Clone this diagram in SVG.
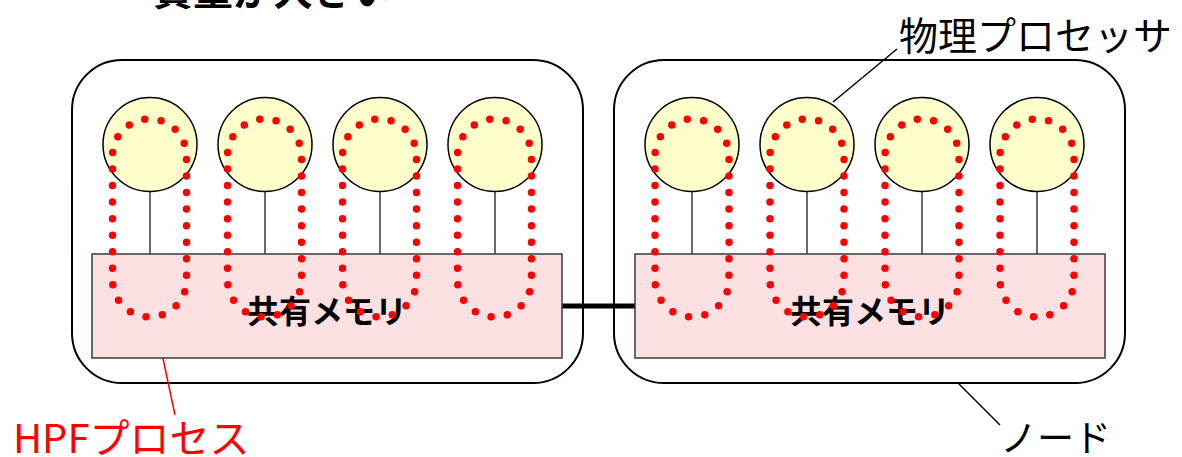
<svg xmlns="http://www.w3.org/2000/svg" width="1182" height="457" viewBox="0 0 1182 457">
  <defs>
    <style>
      .node { fill: #ffffff; stroke: #000000; stroke-width: 2; }
      .cpu { fill: #ffffcc; stroke: #000000; stroke-width: 1.5; }
      .mem { fill: #fde0e2; stroke: #3a3a3a; stroke-width: 1.5; }
      .bus { stroke: #3a3a3a; stroke-width: 1.5; fill: none; }
      .net { stroke: #000000; stroke-width: 5; fill: none; }
      .proc { fill: none; stroke: #ff0000; stroke-width: 7.5; stroke-linecap: round; stroke-dasharray: 0 1; stroke-dashoffset: 0.294; }
      .lead { stroke: #000000; stroke-width: 1.5; fill: none; }
      .lead-red { stroke: #ff0000; stroke-width: 1.5; fill: none; }
      .jp { font-family: "Noto Sans CJK JP", "Noto Sans", sans-serif; }
      .memlabel { font-size: 32px; font-weight: 700; fill: #000000; text-anchor: middle; }
      .label { font-size: 39px; fill: #000000; }
    </style>
    <!-- one HPF process: a dotted loop running from a processor down into memory -->
    <path id="loop" d="M -37,280 L -37,156 A 37 37 0 0 1 37,156 L 37,280 A 37 37 0 0 1 -37,280 Z" pathLength="29"/>
  </defs>

  <rect width="1182" height="457" fill="#ffffff"/>

  <!-- heading line, running off the top edge -->
  <text class="jp" x="153" y="5" font-size="40" font-weight="700" fill="#000000">費量が大きい</text>

  <!-- node boxes -->
  <g id="node-left">
    <rect class="node" x="72" y="60" width="511" height="323" rx="50" ry="50"/>
  </g>
  <g id="node-right">
    <rect class="node" x="614" y="60" width="511" height="323" rx="50" ry="50"/>
  </g>

  <!-- connectors: processor-to-memory buses, inter-node link, leaders -->
  <g id="connectors">
    <path class="bus" d="M150,191.5 V254 M265,191.5 V254 M380,191.5 V254 M495,191.5 V254"/>
    <path class="bus" d="M692,191.5 V254 M807,191.5 V254 M922,191.5 V254 M1037,191.5 V254"/>
    <line class="net" x1="562" y1="306" x2="635" y2="306"/>
    <line class="lead" x1="897" y1="49" x2="833" y2="102"/>
    <line class="lead" x1="958" y1="383" x2="1000" y2="425"/>
    <line class="lead-red" x1="155" y1="321" x2="175" y2="415"/>
  </g>

  <!-- shared memories -->
  <g id="mem-left">
    <rect class="mem" x="92" y="254" width="470" height="104"/>
    <text class="jp memlabel" x="327" y="323">共有メモリ</text>
  </g>
  <g id="mem-right">
    <rect class="mem" x="635" y="254" width="470" height="104"/>
    <text class="jp memlabel" x="870" y="323">共有メモリ</text>
  </g>

  <!-- physical processors -->
  <g id="cpu-l1"><circle class="cpu" cx="150" cy="144.5" r="47"/></g>
  <g id="cpu-l2"><circle class="cpu" cx="265" cy="144.5" r="47"/></g>
  <g id="cpu-l3"><circle class="cpu" cx="380" cy="144.5" r="47"/></g>
  <g id="cpu-l4"><circle class="cpu" cx="495" cy="144.5" r="47"/></g>
  <g id="cpu-r1"><circle class="cpu" cx="692" cy="144.5" r="47"/></g>
  <g id="cpu-r2"><circle class="cpu" cx="807" cy="144.5" r="47"/></g>
  <g id="cpu-r3"><circle class="cpu" cx="922" cy="144.5" r="47"/></g>
  <g id="cpu-r4"><circle class="cpu" cx="1037" cy="144.5" r="47"/></g>

  <!-- HPF processes, one per processor -->
  <g id="processes">
    <use href="#loop" class="proc" transform="translate(149.5,0)"/>
    <use href="#loop" class="proc" transform="translate(264.5,0)"/>
    <use href="#loop" class="proc" transform="translate(379.5,0)"/>
    <use href="#loop" class="proc" transform="translate(494.5,0)"/>
    <use href="#loop" class="proc" transform="translate(692,0)"/>
    <use href="#loop" class="proc" transform="translate(807,0)"/>
    <use href="#loop" class="proc" transform="translate(922,0)"/>
    <use href="#loop" class="proc" transform="translate(1037,0)"/>
  </g>

  <!-- callout labels -->
  <text class="jp label" x="899" y="50">物理プロセッサ</text>
  <text class="jp" x="13" y="453" font-size="40" fill="#ff0000">HPFプロセス</text>
  <text class="jp" x="1000" y="452" font-size="37" fill="#000000">ノード</text>
</svg>
